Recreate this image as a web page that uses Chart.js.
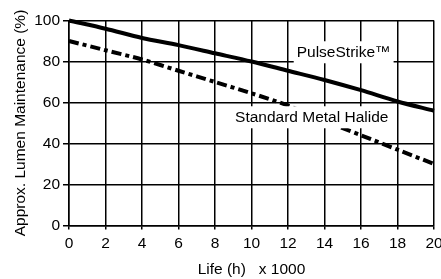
<!DOCTYPE html>
<html>
<head>
<meta charset="utf-8">
<script src="https://cdn.jsdelivr.net/npm/chart.js@4.4.1/dist/chart.umd.min.js"></script>
<style>
  html, body { margin: 0; padding: 0; background: #fff; }
  #wrap { width: 441px; height: 279px; }
</style>
</head>
<body>
<div id="wrap"><canvas id="chart" width="441" height="279"></canvas></div>
<script>
// life in thousands of hours
const lifeHours = [0, 2, 4, 6, 8, 10, 12, 14, 16, 18, 20];
const pulseStrike = [100, 96, 91.5, 88, 84, 80, 75.5, 71, 66, 60.5, 56];
const metalHalide = [90, 85.5, 81, 75.5, 70, 64.5, 58.5, 51, 44, 37, 30];

const seriesLabels = ['PulseStrike™', 'Standard Metal Halide'];
// where the in-chart captions sit (data coordinates)
const labelSpots = [[15.05, 84.5], [13.3, 52.8]];

const FONT = 'Liberation Sans, Arial, Helvetica, sans-serif';

function toPoints(ys) {
    return lifeHours.map((x, i) => ({ x: x, y: ys[i] }));
}

// white-boxed captions drawn on top of lines
const captionPlugin = {
    id: 'captions',
    afterDatasetsDraw(chart) {
        const { ctx, scales } = chart;
        ctx.save();
        ctx.font = '15.5px ' + FONT;
        ctx.textAlign = 'center';
        ctx.textBaseline = 'middle';
        seriesLabels.forEach((txt, i) => {
            const px = scales.x.getPixelForValue(labelSpots[i][0]);
            const py = scales.y.getPixelForValue(labelSpots[i][1]);
            const w = ctx.measureText(txt).width;
            ctx.fillStyle = '#fff';
            ctx.fillRect(px - w / 2 - 3, py - 11, w + 6, 22);
            ctx.fillStyle = '#000';
            ctx.fillText(txt, px, py);
        });
        ctx.restore();
    }
};

const ctx = document.getElementById('chart').getContext('2d');
new Chart(ctx, {
    type: 'line',
    data: {
        datasets: [
            {
                label: seriesLabels[0],
                data: toPoints(pulseStrike),
                borderColor: '#000',
                borderWidth: 4,
                pointRadius: 0,
                tension: 0.3,
                fill: false
            },
            {
                label: seriesLabels[1],
                data: toPoints(metalHalide),
                borderColor: '#000',
                borderWidth: 4,
                borderDash: [10, 4, 4, 4],
                pointRadius: 0,
                tension: 0.3,
                fill: false
            }
        ]
    },
    options: {
        responsive: false,
        animation: false,
        clip: false,
        layout: { padding: { top: 20.5, right: 7, left: 0, bottom: 0 } },
        plugins: {
            legend: { display: false },
            tooltip: { enabled: false }
        },
        scales: {
            x: {
                type: 'linear',
                min: 0,
                max: 20,
                ticks: { stepSize: 2, color: '#000', font: { family: FONT, size: 15.5 }, padding: 5, maxRotation: 0 },
                grid: { color: '#000', lineWidth: 1.5, tickLength: 4 },
                border: { color: '#000', width: 1.5 },
                title: { display: true, text: 'Life (h)   x 1000', color: '#000', font: { family: FONT, size: 15.5 }, padding: { top: 5, bottom: 0 } },
                afterFit(scale) {
                    scale.height = 53.5;
                    scale.paddingLeft = 0;
                    scale.paddingRight = 0;
                }
            },
            y: {
                min: 0,
                max: 100,
                ticks: { stepSize: 20, color: '#000', font: { family: FONT, size: 15.5 }, padding: 3 },
                grid: { color: '#000', lineWidth: 1.5, tickLength: 6 },
                border: { color: '#000', width: 1.5 },
                title: { display: true, text: 'Approx. Lumen Maintenance (%)', color: '#000', font: { family: FONT, size: 15.5 }, padding: { top: 11, bottom: 0 } },
                afterFit(scale) {
                    scale.width = 69;
                    scale.paddingTop = 0;
                    scale.paddingBottom = 0;
                }
            }
        }
    },
    plugins: [captionPlugin]
});
</script>
</body>
</html>
